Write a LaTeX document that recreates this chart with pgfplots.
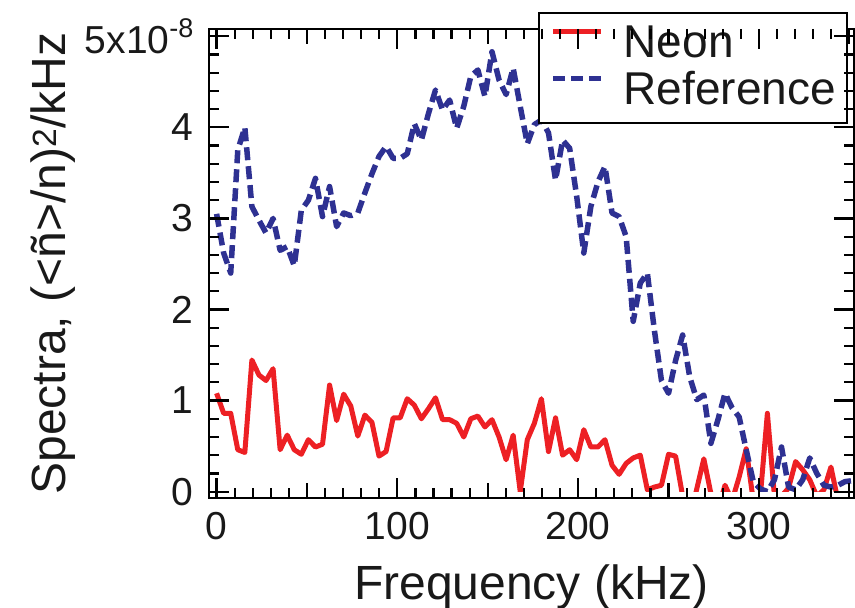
\documentclass[border=0pt]{standalone}
\usepackage{pgfplots}
\pgfplotsset{compat=1.18}
\usepackage{pgfplotstable}
\usepackage{fontspec}
\setmainfont{Liberation Sans}
\definecolor{neonred}{HTML}{ED2024}
\definecolor{refblue}{HTML}{2E3192}
\tikzset{tk/.style={black, line width=2.2pt, mark=none}}
\pgfplotstableread{
x neon ref
0 1.08 3.05
3.906 0.86 2.62
7.813 0.86 2.40
11.719 0.46 3.75
15.625 0.43 4.00
19.531 1.445 3.13
23.438 1.28 2.98
27.344 1.22 2.84
31.25 1.35 3.00
35.156 0.46 2.65
39.063 0.62 2.69
42.969 0.46 2.48
46.875 0.41 3.09
50.781 0.57 3.20
54.688 0.49 3.44
58.594 0.52 3.02
62.5 1.17 3.35
66.406 0.78 2.91
70.313 1.07 3.06
74.219 0.94 3.03
78.125 0.61 3.06
82.031 0.84 3.28
85.938 0.76 3.49
89.844 0.39 3.68
93.75 0.44 3.79
97.656 0.81 3.66
101.563 0.81 3.66
105.469 1.02 3.71
109.375 0.95 4.04
113.281 0.80 3.86
117.188 0.91 4.15
121.094 1.03 4.41
125 0.79 4.19
128.906 0.79 4.30
132.813 0.75 3.99
136.719 0.60 4.23
140.625 0.80 4.56
144.531 0.83 4.63
148.438 0.71 4.34
152.344 0.79 4.83
156.25 0.60 4.52
160.156 0.35 4.36
164.063 0.62 4.65
167.969 0.00 4.23
171.875 0.57 3.82
175.781 0.75 4.03
179.688 1.02 4.08
183.594 0.44 3.94
187.5 0.81 3.42
191.406 0.40 3.86
195.313 0.46 3.77
199.219 0.35 3.24
203.125 0.68 2.62
207.031 0.49 3.13
210.938 0.49 3.40
214.844 0.57 3.57
218.75 0.29 3.06
222.656 0.19 3.02
226.563 0.31 2.80
230.469 0.37 1.87
234.375 0.40 2.29
238.281 0.02 2.40
242.188 0.05 1.77
246.094 0.07 1.22
250 0.41 1.08
253.906 0.39 1.44
257.813 -0.05 1.72
261.719 -0.30 1.26
265.625 0.03 1.01
269.531 0.36 1.06
273.438 -0.02 0.53
277.344 -0.20 0.79
281.25 0.07 1.08
285.156 -0.10 0.92
289.063 0.16 0.82
292.969 0.47 0.46
296.875 -0.10 0.11
300.781 -0.05 0.03
304.688 0.86 0.00
308.594 -0.05 0.13
312.5 -0.05 0.49
316.406 0.04 0.05
320.313 0.33 0.02
324.219 0.24 0.13
328.125 0.13 0.37
332.031 -0.05 0.20
335.938 0.02 0.07
339.844 0.27 0.05
343.75 -0.10 0.07
347.656 -0.20 0.11
351.563 -0.20 0.12
}\spectra
\begin{document}
\begin{tikzpicture}
\useasboundingbox (-209pt,-110pt) rectangle (646pt,498pt);
% data axis: plots clipped at y = 0
\begin{axis}[
  at={(0pt,6.375pt)}, anchor=south west,
  scale only axis, width=645pt, height=462.625pt,
  xmin=-4.2, xmax=352.6, ymin=0, ymax=5.08,
  hide axis, clip=true,
]
\addplot[neonred, line width=5pt, line join=round] table[x=x, y=neon] {\spectra};
\addplot[refblue, line width=5.5pt, line join=round, dash pattern=on 13pt off 6pt] table[x=x, y=ref] {\spectra};
\end{axis}
% frame axis (spines, tick labels, labels, legend)
\begin{axis}[
  at={(0pt,0pt)}, anchor=south west,
  scale only axis, width=645pt, height=469pt,
  xmin=-4.2, xmax=352.6, ymin=-0.07, ymax=5.08,
  clip=false,
  xtick={0,100,200,300}, xticklabels={0,100,200,300},
  ytick={0,1,2,3,4,5},
  yticklabels={0,1,2,3,4,{5x10\raisebox{0.42em}{\fontsize{27}{27}\selectfont -8}}},
  tick align=inside,
  major tick length=0pt, minor tick length=0pt,
  axis line style={line width=2.5pt, black},
  ticklabel style={font=\fontsize{39}{39}\selectfont, text=black!90},
  xticklabel style={anchor=base, yshift=-41pt},
  yticklabel style={anchor=east, xshift=-12pt},
  xlabel={Frequency (kHz)},
  ylabel={Spectra, (<ñ>/n)\textsuperscript{2}/kHz},
  label style={font=\fontsize{48}{48}\selectfont, text=black!90},
  xlabel style={at={(axis description cs:0.5,-0.2154)}, anchor=base},
  ylabel style={at={(axis description cs:-0.242,0.5)}, anchor=center},
  legend style={at={(axis description cs:0.9907,1.036)}, anchor=north east,
    draw=black, line width=2pt, fill=white,
    font=\fontsize{46}{47}\selectfont, text=black!90,
    inner xsep=11pt, inner ysep=8pt, row sep=0pt, column sep=20pt,
    nodes={inner sep=0pt, text height=36pt, text depth=11pt}},
  legend cell align=left,
  legend image code/.code={\draw[#1] (0pt,13pt) -- (48pt,13pt);},
]
\addlegendimage{neonred, line width=5pt}
\addlegendentry{Neon}
\addlegendimage{refblue, line width=5.5pt, dash pattern=on 12pt off 6pt}
\addlegendentry{Reference}
\end{axis}
% tick axis: inward tick marks on all four sides, drawn as short plots
\begin{axis}[
  at={(0pt,0pt)}, anchor=south west,
  scale only axis, width=645pt, height=469pt,
  xmin=-4.2, xmax=352.6, ymin=-0.07, ymax=5.08,
  hide axis, clip=false,
]
\pgfplotsinvokeforeach{10,20,30,40,60,70,80,90,110,120,130,140,160,170,180,190,210,220,230,240,260,270,280,290,310,320,330,340}{
  \addplot[tk] coordinates {(#1,-0.07) (#1,0.0398)};
  \addplot[tk] coordinates {(#1,5.08) (#1,4.9702)};
}
\pgfplotsinvokeforeach{50,150,250,350}{
  \addplot[tk] coordinates {(#1,-0.07) (#1,0.0947)};
  \addplot[tk] coordinates {(#1,5.08) (#1,4.9153)};
}
\pgfplotsinvokeforeach{0,100,200,300}{
  \addplot[tk] coordinates {(#1,-0.07) (#1,0.1496)};
  \addplot[tk] coordinates {(#1,5.08) (#1,4.8604)};
}
\pgfplotsinvokeforeach{0.2,0.4,0.6,0.8,1.2,1.4,1.6,1.8,2.2,2.4,2.6,2.8,3.2,3.4,3.6,3.8,4.2,4.4,4.6,4.8}{
  \addplot[tk] coordinates {(-4.2,#1) (1.332,#1)};
  \addplot[tk] coordinates {(352.6,#1) (347.068,#1)};
}
\pgfplotsinvokeforeach{0,1,2,3,4,5}{
  \addplot[tk] coordinates {(-4.2,#1) (6.864,#1)};
  \addplot[tk] coordinates {(352.6,#1) (341.536,#1)};
}
\end{axis}
\end{tikzpicture}
\end{document}
